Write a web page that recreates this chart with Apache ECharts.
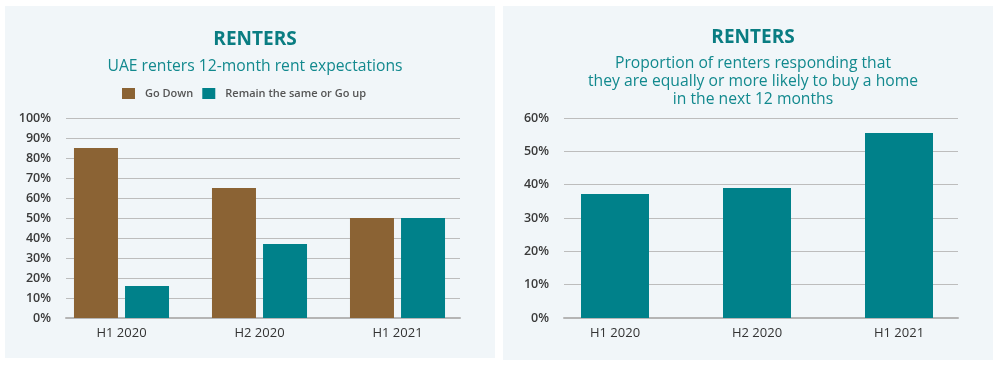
<!DOCTYPE html>
<html>
<head>
<meta charset="utf-8">
<script src="https://cdn.jsdelivr.net/npm/echarts@6/dist/echarts.min.js"></script>
<style>html,body{margin:0;padding:0;background:#fff}#c{width:1000px;height:367px}</style>
</head>
<body>
<div id="c"></div>
<script>
const categories = ['H1 2020', 'H2 2020', 'H1 2021'];
const goDown = [85, 65, 50];
const remainOrUp = [16, 37, 50];
const likelyToBuy = [37.2, 39, 55.5];
const leftTicks = {min: 0, max: 100, interval: 10};
const rightTicks = {min: 0, max: 60, interval: 10};

const BROWN = '#8b6334', TEAL = '#00818a', TITLE = '#0a7d82', SUB = '#12898e';
const FONT = 'Open Sans';
const chart = echarts.init(document.getElementById('c'), null, {renderer: 'canvas'});

function valAxis(gi, t, show) {
  return {
    type: 'value', gridIndex: gi, min: t.min, max: t.max, interval: t.interval,
    show: true,
    axisLine: {show: false}, axisTick: {show: false},
    axisLabel: show ? {formatter: '{value}%', color: '#3a3a3a', fontFamily: FONT, fontSize: 12.5, fontWeight: 600, margin: 15} : {show: false},
    splitLine: show ? {lineStyle: {color: '#bdbdbd', width: 1}} : {show: false}
  };
}
function catAxis(gi, labels) {
  return {
    type: 'category', gridIndex: gi, data: categories,
    axisTick: {show: false},
    axisLine: labels ? {show: false} : {show: true, lineStyle: {color: '#b5b5b5', width: 2}},
    axisLabel: labels ? {color: '#333', fontFamily: FONT, fontSize: 13, margin: 9} : {show: false}
  };
}

chart.setOption({
  backgroundColor: '#ffffff',
  animation: false,
  graphic: [
    {type: 'rect', shape: {x: 5, y: 6, width: 490, height: 352}, style: {fill: '#f1f6f9'}, z: -10},
    {type: 'rect', shape: {x: 503, y: 6, width: 490, height: 354}, style: {fill: '#f1f6f9'}, z: -10}
  ],
  title: [
    {text: 'RENTERS', left: 250, top: 25, textAlign: 'center',
     textStyle: {color: TITLE, fontFamily: FONT, fontSize: 19, fontWeight: 'bold'}},
    {text: 'UAE renters 12-month rent expectations', left: 250, top: 54, textAlign: 'center',
     textStyle: {color: SUB, fontFamily: FONT, fontSize: 15.7, fontWeight: 'normal'}},
    {text: 'RENTERS', left: 748, top: 23, textAlign: 'center',
     textStyle: {color: TITLE, fontFamily: FONT, fontSize: 19, fontWeight: 'bold'}},
    {text: 'Proportion of renters responding that\nthey are equally or more likely to buy a home\nin the next 12 months', left: 748, top: 50, textAlign: 'center',
     textStyle: {color: SUB, fontFamily: FONT, fontSize: 15.7, fontWeight: 'normal', lineHeight: 18, align: 'center'}}
  ],
  legend: {
    left: 122, top: 88, padding: 0, itemWidth: 13, itemHeight: 11, itemGap: 9,
    icon: 'rect',
    textStyle: {color: '#555', fontFamily: FONT, fontSize: 11, fontWeight: 600, padding: [0, 0, 0, 5]},
    data: ['Go Down', 'Remain the same or Go up']
  },
  grid: [
    {left: 66, right: 540, top: 118, bottom: 49},
    {left: 52.5, right: 533.5, top: 118, bottom: 49},
    {left: 564, right: 42, top: 118, bottom: 49},
    {left: 544, right: 30, top: 118, bottom: 49}
  ],
  xAxis: [catAxis(0, false), catAxis(1, true), catAxis(2, false), catAxis(3, true)],
  yAxis: [valAxis(0, leftTicks, true), valAxis(1, leftTicks, false), valAxis(2, rightTicks, true), valAxis(3, rightTicks, false)],
  series: [
    {name: 'Go Down', type: 'bar', xAxisIndex: 1, yAxisIndex: 1, data: goDown, barWidth: 44, barGap: '16%', itemStyle: {color: BROWN}},
    {name: 'Remain the same or Go up', type: 'bar', xAxisIndex: 1, yAxisIndex: 1, data: remainOrUp, barWidth: 44, barGap: '16%', itemStyle: {color: TEAL}},
    {name: 'Likely to buy', type: 'bar', xAxisIndex: 3, yAxisIndex: 3, data: likelyToBuy, barWidth: 68, itemStyle: {color: TEAL}}
  ]
});
</script>
</body>
</html>
